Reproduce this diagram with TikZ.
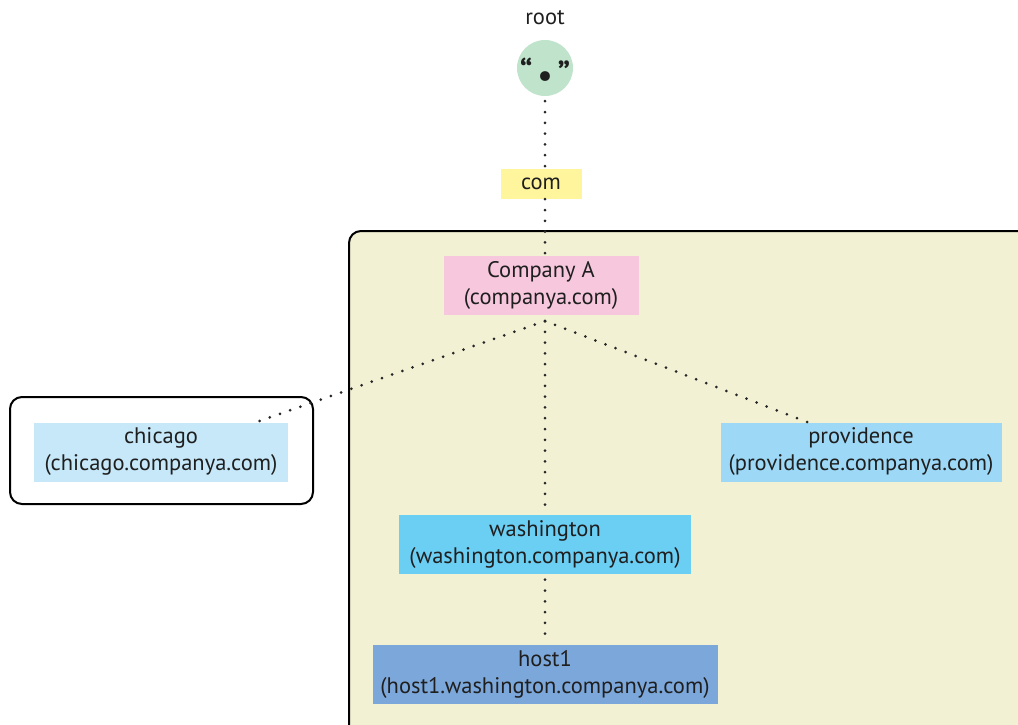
\documentclass[tikz,border=0pt]{standalone}
\usepackage{fontspec}
\setmainfont{PT Sans}
\usepackage{tikz}

\definecolor{rootgreen}{HTML}{BFE3CB}
\definecolor{comyellow}{HTML}{FFF59D}
\definecolor{zonebg}{HTML}{F3F1D4}
\definecolor{compink}{HTML}{F7C8DD}
\definecolor{chiblue}{HTML}{C6E8F9}
\definecolor{provblue}{HTML}{9DD9F6}
\definecolor{washblue}{HTML}{6BCEF3}
\definecolor{hostblue}{HTML}{7CA7DA}

\tikzset{
  dom/.style={inner sep=0pt,align=center,font=\fontsize{22.5}{27}\selectfont,text=black!88},
  dnsline/.style={line width=3pt,line cap=round,dash pattern=on 0pt off 10.8pt,black!85}
}

\begin{document}
\begin{tikzpicture}[x=1pt,y=-1pt]
  \useasboundingbox (0,0) rectangle (1018,724);
  \clip (0,0) rectangle (1018,724);
  % zones
  \draw[fill=zonebg,line width=2pt,rounded corners=12pt] (349,231) rectangle (1040,745);
  \draw[fill=white,line width=2pt,rounded corners=12pt] (10,397) rectangle (313,504);
  % root
  \node[dom] (rootlbl) at (545,18) {root};
  \node[circle,fill=rootgreen,minimum size=56pt,inner sep=0pt] (root) at (545,68) {};
  \node[font=\fontsize{32}{32}\bfseries\selectfont,inner sep=0pt,text=black!88] at (545,72) {“\,\raisebox{-3pt}{\textbullet}\,”};
  % domains
  \node[dom,fill=comyellow,minimum width=81pt,minimum height=30pt] (com) at (541,184) {com};
  \node[dom,fill=compink,minimum width=195pt,minimum height=59pt] (compa) at (541,285) {Company A\\(companya.com)};
  \node[dom,fill=chiblue,minimum width=254pt,minimum height=59pt] (chicago) at (161,452) {chicago\\(chicago.companya.com)};
  \node[dom,fill=provblue,minimum width=281pt,minimum height=59pt] (prov) at (861,452) {providence\\(providence.companya.com)};
  \node[dom,fill=washblue,minimum width=292pt,minimum height=59pt] (wash) at (545,544) {washington\\(washington.companya.com)};
  \node[dom,fill=hostblue,minimum width=345pt,minimum height=59pt] (host) at (545,674) {host1\\(host1.washington.companya.com)};
  % connectors
  \coordinate (fork) at (545,321);
  \draw[dnsline] (root.south) ++(0,5) -- ([xshift=4pt]com.north);
  \draw[dnsline] ([xshift=4pt]com.south) -- ([xshift=4pt]compa.north);
  \draw[dnsline] (fork) -- ([xshift=89pt,yshift=-2pt]chicago.north);
  \draw[dnsline] (fork) -- ([xshift=-48pt,yshift=-2pt]prov.north);
  \draw[dnsline] (fork) -- (wash.north);
  \draw[dnsline] (wash.south) ++(0,6) -- (host.north);
\end{tikzpicture}
\end{document}
